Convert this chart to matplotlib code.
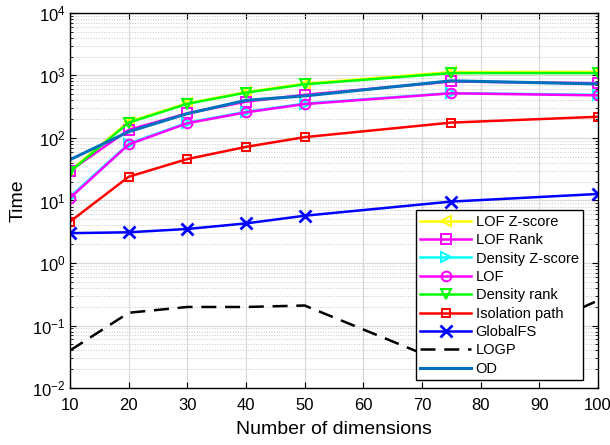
import matplotlib
matplotlib.use('Agg')
import matplotlib.pyplot as plt
import numpy as np
from matplotlib.ticker import LogLocator, NullFormatter

plt.rcParams['font.family'] = ['Liberation Sans', 'DejaVu Sans']

# Data
dims = [10, 20, 30, 40, 50, 75, 100]
lof_zscore = [30, 182, 360, 540, 740, 1130, 1140]
lof_rank = [30, 135, 248, 380, 490, 800, 750]
density_zscore = [11.5, 81, 176, 262, 355, 522, 490]
lof = [11, 79, 172, 257, 348, 518, 480]
density_rank = [29, 176, 352, 530, 720, 1090, 1090]
isolation_path = [4.6, 24, 46, 72, 103, 176, 218]
global_fs = [3.0, 3.1, 3.5, 4.3, 5.7, 9.6, 12.7]
logp = [0.04, 0.16, 0.198, 0.198, 0.209, 0.023, 0.25]
od = [45, 126, 245, 400, 470, 820, 730]

fig = plt.figure(figsize=(6.1, 4.45), dpi=100)
ax = fig.add_axes([0.115, 0.128, 0.865, 0.843])

lw = 1.8
ms = 7
mew = 1.4
ax.plot(dims, lof_zscore, color=(1, 1, 0), marker='<', mfc='none', ms=ms, mew=mew, lw=lw, label='LOF Z-score')
ax.plot(dims, lof_rank, color=(1, 0, 1), marker='s', mfc='none', ms=ms, mew=mew, lw=lw, label='LOF Rank')
ax.plot(dims, density_zscore, color=(0, 1, 1), marker='>', mfc='none', ms=ms, mew=mew, lw=lw, label='Density Z-score')
ax.plot(dims, lof, color=(1, 0, 1), marker='o', mfc='none', ms=ms, mew=mew, lw=lw, label='LOF')
ax.plot(dims, density_rank, color=(0, 1, 0), marker='v', mfc='none', ms=ms, mew=mew, lw=lw, label='Density rank')
ax.plot(dims, isolation_path, color=(1, 0, 0), marker='s', mfc='none', ms=6, mew=mew, lw=lw, label='Isolation path')
ax.plot(dims, global_fs, color=(0, 0, 1), marker='x', ms=ms + 1, mew=2, lw=lw, label='GlobalFS')
ax.plot(dims, logp, color='black', ls=(0, (6, 3.5)), lw=lw, label='LOGP')
ax.plot(dims, od, color='#0072BD', lw=2.2, label='OD')

ax.set_yscale('log')
ax.set_xlim(10, 100)
ax.set_ylim(1e-2, 1e4)
ax.set_xticks(np.arange(10, 101, 10))
ax.yaxis.set_major_locator(LogLocator(base=10, numticks=10))
ax.yaxis.set_minor_locator(LogLocator(base=10, subs=np.arange(2, 10), numticks=20))
ax.yaxis.set_minor_formatter(NullFormatter())

ax.grid(True, which='major', color='#d9d9d9', lw=0.9)
ax.grid(True, which='minor', axis='y', color='#c8c8c8', ls=':', lw=0.7)
ax.set_axisbelow(True)

ax.tick_params(which='both', direction='in', top=True, right=True, labelsize=12)
ax.tick_params(axis='x', pad=7)
ax.tick_params(which='major', length=4)
ax.tick_params(which='minor', length=2)
for s in ax.spines.values():
    s.set_linewidth(1.0)

ax.set_xlabel('Number of dimensions', fontsize=14, labelpad=6)
ax.set_ylabel('Time', fontsize=14)

leg = ax.legend(loc='lower right', bbox_to_anchor=(0.972, 0.021), borderaxespad=0,
                fontsize=10.5, labelspacing=0.3, handlelength=3.5, handletextpad=0.3,
                fancybox=False, edgecolor='black', framealpha=1, borderpad=0.3)
leg.get_frame().set_linewidth(1.0)

fig.savefig('out.png', dpi=100)
